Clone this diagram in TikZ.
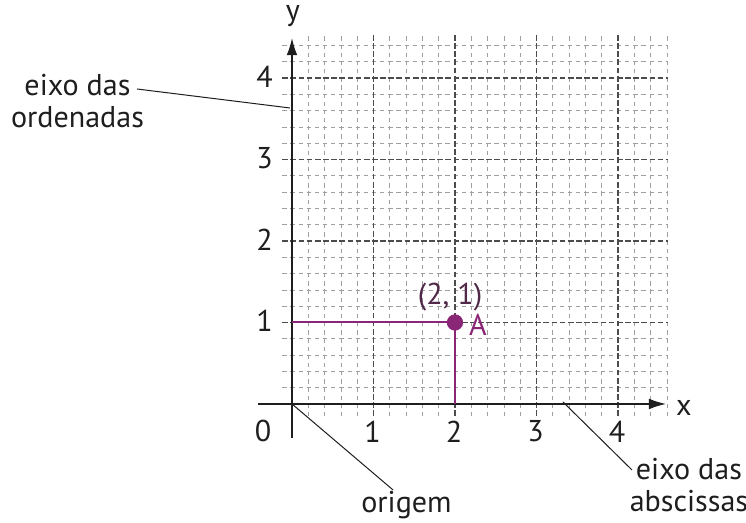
\documentclass[tikz,border=0pt]{standalone}
\usepackage{fontspec}
\setmainfont{PT Sans}
\usetikzlibrary{arrows.meta}
\definecolor{plum}{RGB}{138,38,118}
\definecolor{plumdark}{RGB}{80,40,72}
\definecolor{ink}{RGB}{30,30,30}
\begin{document}
\begin{tikzpicture}[x=2cm,y=2cm,
  minorline/.style={gray!75,line width=0.5pt,dash pattern=on 3pt off 2.7pt},
  majorline/.style={gray!60!black,line width=0.75pt,dash pattern=on 4pt off 1.7pt},
  axisline/.style={ink,line width=0.9pt},
  axisarrow/.style={ink,line width=0.9pt,-{Latex[length=12pt,width=7.5pt]}},
  leader/.style={ink,line width=0.7pt},
  lbl/.style={text=ink,font=\fontsize{21}{24}\selectfont,inner sep=0pt},
  tick/.style={text=ink,font=\fontsize{21}{24}\selectfont,inner sep=0pt},
  guide/.style={plum,line width=1.4pt}]
\useasboundingbox (-3.583,-1.460) rectangle (5.571,4.957);
% grid
\foreach \xx in {0.2,0.4,...,4.61} \draw[minorline] (\xx,-0.15) -- (\xx,4.55);
\foreach \yy in {0.2,0.4,...,4.41} \draw[minorline] (-0.12,\yy) -- (4.62,\yy);
\foreach \xx in {1,2,3,4} \draw[majorline] (\xx,-0.15) -- (\xx,4.55);
\foreach \yy in {1,2,3,4} \draw[majorline] (-0.12,\yy) -- (4.62,\yy);
% axes
\coordinate (xs) at (-0.42,0);
\coordinate (xe) at (4.59,0);
\coordinate (ys) at (0,-0.42);
\coordinate (ye) at (0,4.49);
\coordinate (O) at (0,0);
\draw[axisarrow] (xs) -- (xe);
\draw[axisarrow] (ys) -- (ye);
\node[lbl] (xl) at (4.81,-0.05) {x};
\node[lbl] (yl) at (0.01,4.76) {y};
% ticks labels
\node[tick] (t0) at (-0.356,-0.337) {0};
\foreach \n in {1,2,3,4} {
  \node[tick] (tx\n) at (\n-0.01,-0.337) {\n};
  \node[tick] (ty\n) at (-0.337,\n+0.02) {\n};
}
% point A
\coordinate (P1) at (0,1);
\coordinate (P2) at (2,0);
\node[circle,fill=plum,inner sep=0pt,minimum size=0.4cm] (A) at (2,1) {};
\draw[guide] (P1) -- (A.center);
\draw[guide] (P2) -- (A.center);
\node[lbl,text=plumdark] (coord) at (1.94,1.31) {(2, 1)};
\node[lbl,text=plum] (Al) at (2.28,0.975) {A};
% labels with leaders
\node[lbl,anchor=base] (ord1) at (-2.632,3.791) {eixo das};
\node[lbl,anchor=base] (ord2) at (-2.632,3.387) {ordenadas};
\coordinate (ordS) at (-1.902,3.865);
\coordinate (ordE) at (-0.025,3.632);
\draw[leader] (ordS) -- (ordE);
\node[lbl,anchor=base] (orig) at (1.405,-1.337) {origem};
\coordinate (origE) at (1.24,-1.055);
\draw[leader] (O) -- (origE);
\node[lbl,anchor=base] (abs1) at (4.871,-0.93) {eixo das};
\node[lbl,anchor=base] (abs2) at (4.871,-1.32) {abscissas};
\coordinate (absS) at (3.325,0.025);
\coordinate (absE) at (4.172,-0.81);
\draw[leader] (absS) -- (absE);
\end{tikzpicture}
\end{document}
